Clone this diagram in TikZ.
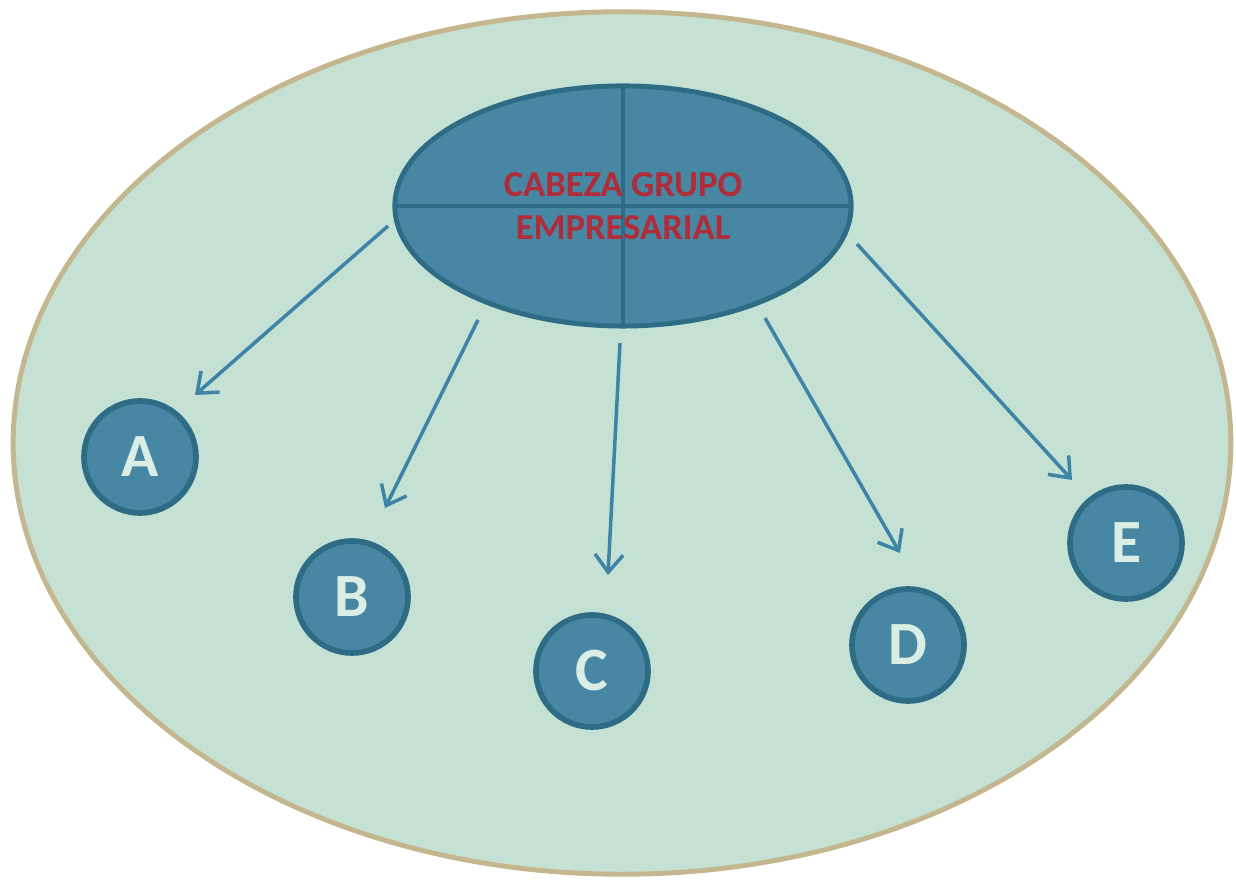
\documentclass[tikz,border=0pt]{standalone}
\usepackage{fontspec}
\setmainfont{Carlito}
\definecolor{GroupMint}{RGB}{196, 225, 212}
\definecolor{GroupTan}{RGB}{196, 182, 142}
\definecolor{UnitBlue}{RGB}{71, 135, 163}
\definecolor{UnitDark}{RGB}{46, 108, 134}
\definecolor{ArrowBlue}{RGB}{62, 132, 166}
\definecolor{HeadRed}{RGB}{176, 44, 56}
\definecolor{LetterPale}{RGB}{218, 238, 230}
\usetikzlibrary{arrows.meta, shapes.geometric}
\tikzset{
  group/.style={
    ellipse, draw=GroupTan, fill=GroupMint, line width=1.4pt,
    minimum width=12.17cm, minimum height=8.62cm, inner sep=0pt
  },
  head/.style={
    ellipse, draw=UnitDark, fill=UnitBlue, line width=1.4pt,
    minimum width=4.56cm, minimum height=2.4cm, inner sep=0pt,
    align=center, text=HeadRed,
    font=\fontsize{10.4}{12.2}\selectfont\bfseries,
    path picture={
      \draw[UnitDark, line width=1.2pt]
        (path picture bounding box.north) -- (path picture bounding box.south)
        (path picture bounding box.west) -- (path picture bounding box.east);
    }
  },
  unit/.style={
    circle, draw=UnitDark, fill=UnitBlue, line width=1.6pt,
    minimum size=1.12cm, inner sep=0pt, text=LetterPale,
    font=\fontsize{17.5}{18}\selectfont\bfseries
  },
  link/.style={line width=1pt, color=ArrowBlue,
    -{Straight Barb[length=5pt, width=8pt, line width=1pt]}},
}

\begin{document}
\begin{tikzpicture}[x=0.01cm, y=-0.01cm]
\useasboundingbox (0,0) rectangle (1236,880);

\node[group] (grupo) at (622,443) {};
\node[head] (cabeza) at (623,206) {CABEZA GRUPO\\EMPRESARIAL};

% Empresas
\node[unit] (A) at (140,457) {A};
\node[unit] (B) at (352,597) {B};
\node[unit] (C) at (592,671) {C};
\node[unit] (D) at (908,645) {D};
\node[unit] (E) at (1126,543) {E};

% Arrow ends
\coordinate (sA) at (388,226);
\coordinate (tA) at (195,395);
\coordinate (sB) at (478,320);
\coordinate (tB) at (385,508);
\coordinate (sC) at (620,343);
\coordinate (tC) at (608,575);
\coordinate (sD) at (765,318);
\coordinate (tD) at (900,553);
\coordinate (sE) at (857,244);
\coordinate (tE) at (1072,480);

\foreach \u in {A,B,C,D,E}
  \draw[link] (s\u) -- (t\u);
\end{tikzpicture}
\end{document}
